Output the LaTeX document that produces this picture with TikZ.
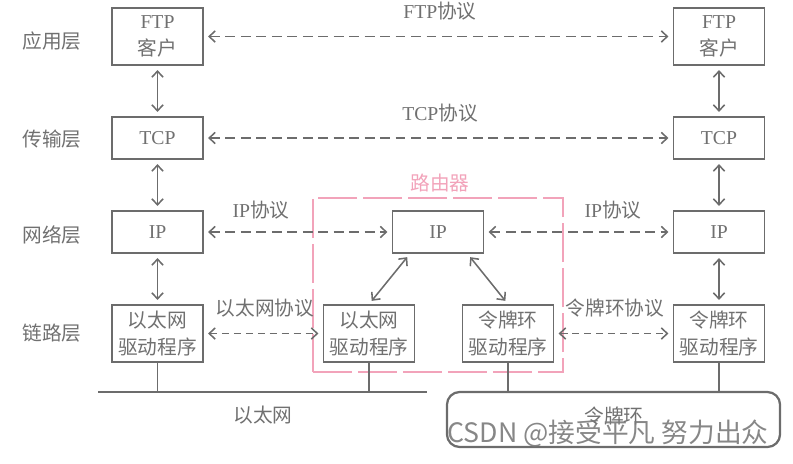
\documentclass[tikz,border=0pt]{standalone}
\usepackage{fontspec}
\setmainfont{Liberation Serif}
\newfontfamily\cjk{Noto Sans CJK SC}
\usetikzlibrary{arrows.meta,positioning,calc}
\definecolor{ink}{HTML}{6C6C6C}
\definecolor{inktext}{HTML}{707070}
\definecolor{routerpink}{HTML}{F2A3BA}
\definecolor{wmgray}{HTML}{7A7A7A}
\tikzset{
  layername/.style={text=inktext,font=\cjk\fontsize{14}{17}\selectfont},
  layerbox/.style={draw=ink,line width=1.2pt,minimum width=2.275cm,
                   minimum height=1.05cm,align=center,inner sep=1pt,
                   text=inktext,font=\fontsize{14}{19}\selectfont},
  twoline/.style={minimum height=1.425cm},
  protolabel/.style={text=inktext,font=\fontsize{14}{17}\selectfont},
  proto/.style={{Straight Barb[length=1.5mm,width=2.8mm]}-{Straight Barb[length=1.5mm,width=2.8mm]},
                line width=1.1pt,draw=ink,dash pattern=on 7pt off 4pt,
                shorten <=3pt,shorten >=3pt},
  shortproto/.style={proto,dash pattern=on 5pt off 3.5pt},
  updown/.style={{Straight Barb[length=1.5mm,width=2.8mm]}-{Straight Barb[length=1.5mm,width=2.8mm]},
                 line width=1.1pt,draw=ink,shorten <=3pt,shorten >=3pt},
  bus/.style={line width=1.3pt,draw=ink},
  routerbox/.style={draw=routerpink,line width=1.1pt,
                    dash pattern=on 28pt off 4pt},
  ring/.style={draw=ink,line width=1.6pt,rounded corners=9pt},
  watermark/.style={text=wmgray,text opacity=0.9,font=\cjk\fontsize{19}{22}\selectfont}
}
\begin{document}
\begin{tikzpicture}[x=0.025cm,y=-0.025cm]
    \path[use as bounding box] (0,0) rectangle (793,463);

    % router frame
    \node[routerbox,minimum width=6.25cm,minimum height=4.35cm] (router) at (438,285) {};
    \node[protolabel,text=routerpink,font=\cjk\fontsize{14}{17}\selectfont] (routername) at (440,183) {路由器};

    % layer names
    \node[layername] (app) at (52,41) {应用层};
    \node[layername] (trans) at (52,139) {传输层};
    \node[layername] (net) at (52,235) {网络层};
    \node[layername] (link) at (52,333) {链路层};

    % left host
    \node[layerbox,twoline] (ftpL) at (157.5,36.5) {FTP\\{\cjk 客户}};
    \node[layerbox] (tcpL) at (157.5,138) {TCP};
    \node[layerbox] (ipL) at (157.5,232) {IP};
    \node[layerbox,twoline,font=\cjk\fontsize{14}{19}\selectfont] (ethL) at (157.5,333.5) {以太网\\驱动程序};

    % router stack
    \node[layerbox] (ipM) at (438,232) {IP};
    \node[layerbox,twoline,font=\cjk\fontsize{14}{19}\selectfont] (ethM) at (369,333.5) {以太网\\驱动程序};
    \node[layerbox,twoline,font=\cjk\fontsize{14}{19}\selectfont] (tokM) at (508,333.5) {令牌环\\驱动程序};

    % right host
    \node[layerbox,twoline] (ftpR) at (719,36.5) {FTP\\{\cjk 客户}};
    \node[layerbox] (tcpR) at (719,138) {TCP};
    \node[layerbox] (ipR) at (719,232) {IP};
    \node[layerbox,twoline,font=\cjk\fontsize{14}{19}\selectfont] (tokR) at (719,333.5) {令牌环\\驱动程序};

    % stacks
    \draw[updown] (ftpL) -- (tcpL);
    \draw[updown] (tcpL) -- (ipL);
    \draw[updown] (ipL) -- (ethL);
    \draw[updown] (ftpR) -- (tcpR);
    \draw[updown] (tcpR) -- (ipR);
    \draw[updown] (ipR) -- (tokR);
    \draw[updown] ([xshift=-20pt]ipM.south) -- (ethM.north);
    \draw[updown] ([xshift=21pt]ipM.south) -- (tokM.north);

    % peer protocols
    \draw[proto] (ftpL) -- (ftpR);
    \node[protolabel] (ftpP) at (440,11) {FTP{\cjk 协议}};
    \draw[proto] (tcpL) -- (tcpR);
    \node[protolabel] (tcpP) at (440,113) {TCP{\cjk 协议}};
    \draw[proto] (ipL) -- (ipM);
    \node[protolabel] (ipPL) at (261,210) {IP{\cjk 协议}};
    \draw[proto] (ipM) -- (ipR);
    \node[protolabel] (ipPR) at (613,210) {IP{\cjk 协议}};
    \draw[shortproto] (ethL) -- (ethM);
    \node[protolabel,font=\cjk\fontsize{14}{17}\selectfont] (ethP) at (265,308) {以太网协议};
    \draw[shortproto] (tokM) -- (tokR);
    \node[protolabel,font=\cjk\fontsize{14}{17}\selectfont] (tokP) at (615,308) {令牌环协议};

    % ethernet bus
    \coordinate (etherW) at (98,392);
    \coordinate (etherE) at (427,392);
    \draw[bus] (etherW) -- (etherE);
    \draw[bus] (ethL.south) -- (ethL.south |- etherW);
    \draw[bus] (ethM.south) -- (ethM.south |- etherW);
    \node[layername] (ethername) at (263,415) {以太网};

    % token ring
    \node[ring,minimum width=8.325cm,minimum height=1.375cm] (ring) at (613.5,419.5) {};
    \draw[bus] (tokM.south) -- (tokM.south |- ring.north);
    \draw[bus] (tokR.south) -- (tokR.south |- ring.north);
    \node[layername] (ringname) at (614,416) {令牌环};
    \node[watermark] (wm) at (608,433) {CSDN @接受平凡 努力出众};
\end{tikzpicture}
\end{document}
